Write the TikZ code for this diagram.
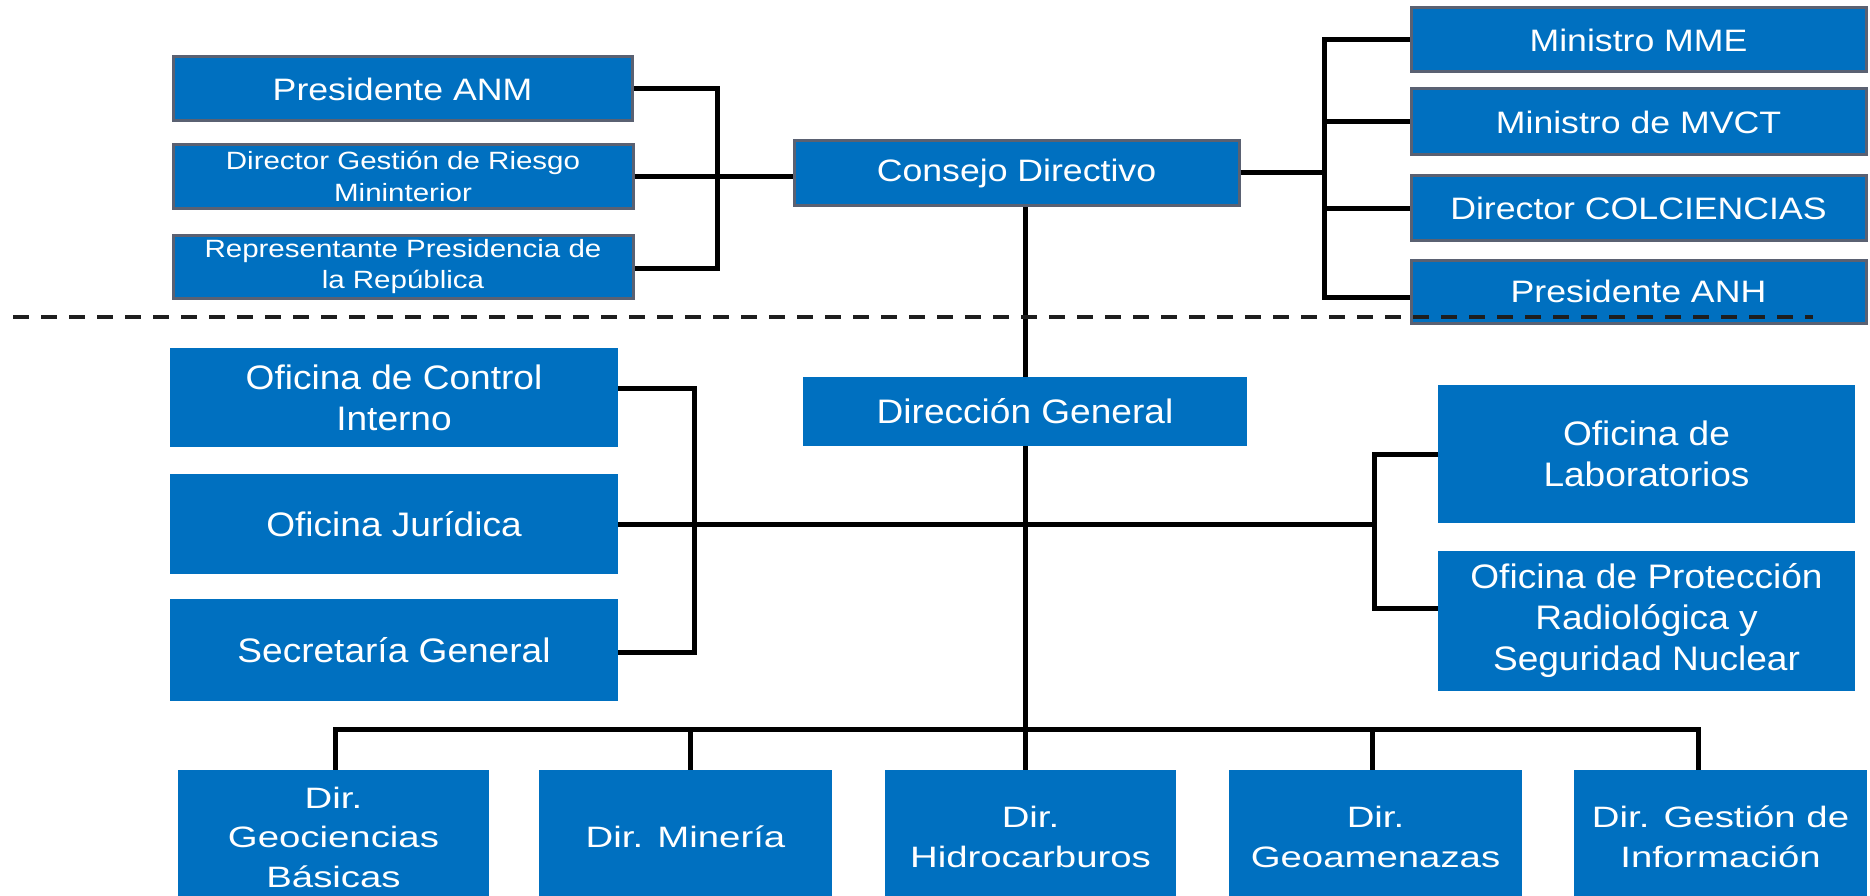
\documentclass[tikz,border=0pt]{standalone}
\usepackage{fontspec}
\setmainfont{Liberation Sans}
\newfontfamily\ftop[FakeStretch=1.15]{Liberation Sans}
\newfontfamily\fdir[FakeStretch=1.18]{Liberation Sans}
\newfontfamily\fmid[FakeStretch=1.09]{Liberation Sans}
\newfontfamily\fbot[FakeStretch=1.3]{Liberation Sans}
\definecolor{boxblue}{RGB}{0,112,192}
\definecolor{boxedge}{RGB}{90,97,114}
\definecolor{dashc}{RGB}{30,30,30}
\begin{document}
\begin{tikzpicture}[x=1pt,y=-1pt,
  bx/.style={fill=boxblue,text=white,inner sep=0pt,align=center,anchor=center},
  topbox/.style={bx,draw=boxedge,line width=3pt,font=\ftop\fontsize{31}{36}\selectfont},
  dirbox/.style={bx,draw=boxedge,line width=3pt,font=\fdir\fontsize{25}{31.5}\selectfont},
  midbox/.style={bx,font=\fmid\fontsize{34}{41}\selectfont},
  botbox/.style={bx,font=\fbot\fontsize{29.5}{39.5}\selectfont,minimum height=134pt,minimum width=293pt},
  conn/.style={draw=black,line width=5pt},
  sep/.style={draw=dashc,line width=3.2pt,dash pattern=on 16pt off 12pt}
]
\useasboundingbox (0,0) rectangle (1870,896);
\clip (0,0) rectangle (1870,896);
\fill[white] (0,0) rectangle (1870,896);

% top left
\node[topbox,minimum width=459pt,minimum height=64pt] (pAnm) at (402.5,89) {Presidente ANM};
\node[dirbox,minimum width=460pt,minimum height=63pt] (dGes) at (403,176.5) {Director Gestión de Riesgo\\Mininterior};
\node[dirbox,minimum width=460pt,minimum height=63pt] (rep) at (403,266.5) {Representante Presidencia de\\la República};
% council
\node[topbox,minimum width=445pt,minimum height=64pt] (cons) at (1016.5,173) {Consejo Directivo};
% top right
\node[topbox,minimum width=455pt,minimum height=64pt] (mme) at (1638.5,40) {Ministro MME};
\node[topbox,minimum width=455pt,minimum height=66pt] (mvct) at (1638.5,122) {Ministro de MVCT};
\node[topbox,minimum width=455pt,minimum height=64pt] (colc) at (1638.5,208) {Director COLCIENCIAS};
\node[topbox,minimum width=455pt,minimum height=63pt] (anh) at (1638.5,291.5) {Presidente ANH};

% middle
\node[midbox,minimum width=448pt,minimum height=99pt] (ctrl) at (394,397.5) {Oficina de Control\\Interno};
\node[midbox,minimum width=448pt,minimum height=100pt] (jur) at (394,524) {Oficina Jurídica};
\node[midbox,minimum width=448pt,minimum height=102pt] (sec) at (394,650) {Secretaría General};
\node[midbox,minimum width=444pt,minimum height=69pt] (dirG) at (1025,411.5) {Dirección General};
\node[midbox,minimum width=417pt,minimum height=138pt] (lab) at (1646.5,454) {Oficina de\\Laboratorios};
\node[midbox,minimum width=417pt,minimum height=140pt] (prot) at (1646.5,621) {Oficina de Protección\\Radiológica y\\Seguridad Nuclear};

% bottom
\node[botbox,minimum width=311pt] (geo) at (333.5,837) {Dir.\\Geociencias\\Básicas};
\node[botbox] (min) at (685.5,837) {Dir. Minería};
\node[botbox,minimum width=291pt] (hid) at (1030.5,837) {Dir.\\Hidrocarburos};
\node[botbox] (gam) at (1375.5,837) {Dir.\\Geoamenazas};
\node[botbox] (gin) at (1720.5,837) {Dir. Gestión de\\Información};

% junction coordinates
\coordinate (tlb) at (717,268);
\coordinate (trx) at (1324,0);
\coordinate (anhJ) at (1324,297);
\coordinate (ml) at (694,388);
\coordinate (mlb) at (694,652);
\coordinate (mrx) at (1374,0);
\coordinate (mrb) at (1374,608);
\coordinate (b1) at (335,729);
\coordinate (b2) at (690,729);
\coordinate (b3) at (1025,729);
\coordinate (b4) at (1372,729);
\coordinate (b5) at (1698,729);

% top-left bracket
\draw[conn] (pAnm.east) -| (tlb) -- (tlb -| rep.east);
\draw[conn] (dGes.east) -- (dGes.east -| cons.west);
% top-right bracket
\draw[conn] (mme.west) -| (anhJ) -- (anhJ -| anh.west);
\draw[conn] (cons.east) -- (cons.east -| trx);
\draw[conn] (mvct.west -| trx) -- (mvct.west);
\draw[conn] (colc.west -| trx) -- (colc.west);
% central spine
\draw[conn] (cons.south -| dirG.north) -- (dirG.north);
\draw[conn] (dirG.south) -- (dirG.south |- hid.north);
% middle-left bracket
\draw[conn] (ml -| ctrl.east) -- (ml) -- (mlb) -- (mlb -| sec.east);
\draw[conn] (jur.east) -- (jur.east -| mrx);
% middle-right bracket
\draw[conn] (lab.west) -| (mrb) -- (mrb -| prot.west);
% bottom bar
\draw[conn] (b1 |- geo.north) -- (b1) -- (b5) -- (b5 |- gin.north);
\draw[conn] (b2) -- (b2 |- min.north);
\draw[conn] (b4) -- (b4 |- gam.north);

% separator
\coordinate (dL) at (13,317);
\coordinate (dR) at (1813,317);
\draw[sep] (dL) -- (dR);
\end{tikzpicture}
\end{document}
